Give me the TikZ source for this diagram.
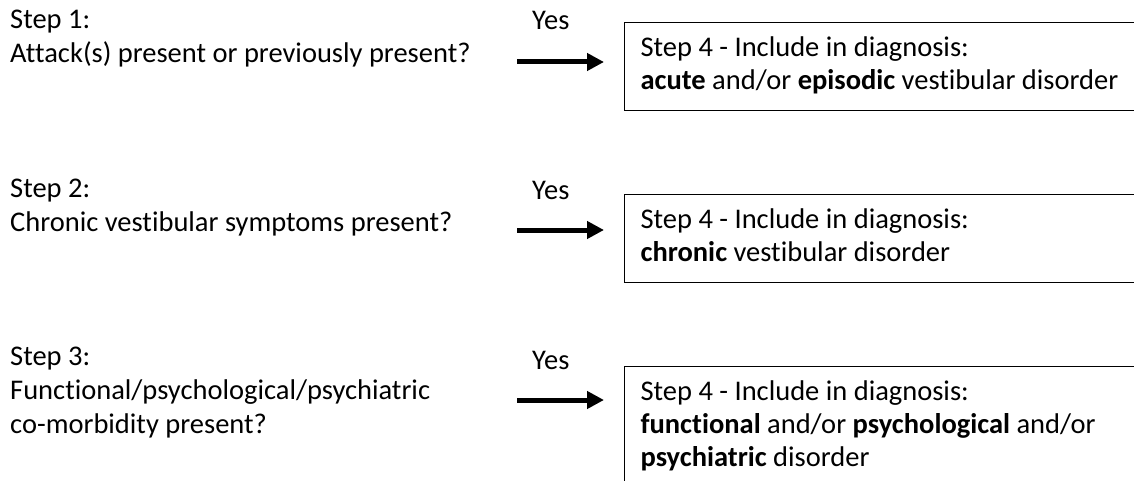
\documentclass[tikz,border=0pt]{standalone}
\usepackage{fontspec}
\setmainfont{Carlito}[Ligatures=NoCommon]
\usetikzlibrary{arrows.meta}

\begin{document}
\begin{tikzpicture}[x=1pt,y=-1pt,
        question/.style={anchor=north west, inner sep=0pt, align=left, font=\fontsize{28.5}{34}\selectfont},
        yesLabel/.style={anchor=base west, inner sep=0pt, font=\fontsize{28.5}{34}\selectfont},
        diagBox/.style={draw, line width=1.2pt, anchor=north west, inner xsep=16pt, inner ysep=10.9pt, text width=560pt, align=flush left, font=\fontsize{28.5}{33}\selectfont},
        yesArrow/.style={line width=5pt, -{Triangle[length=17pt,width=17pt]}}]
        \def\boxLeft{624}
        \def\arrowStart{517}
        \def\yesLeft{532}
        \useasboundingbox (0,0) rectangle (1134,481);
        \clip (0,0) rectangle (1134,481);

        \node[question] (step1) at (10,4.2) {\strut Step 1:\\Attack(s) present or previously present?};
        \node[question] (step2) at (10,173.2) {\strut Step 2:\\Chronic vestibular symptoms present?};
        \node[question] (step3) at (10,341.2) {\strut Step 3:\\Functional/psychological/psychiatric\\co-morbidity present?};

        \node[yesLabel] (yes1) at (\yesLeft,30) {Yes};
        \node[yesLabel] (yes2) at (\yesLeft,199) {Yes};
        \node[yesLabel] (yes3) at (\yesLeft,369) {Yes};

        \node[diagBox] (diag1) at (\boxLeft,22) {\strut Step 4 - Include in diagnosis:\\\textbf{acute} and/or \textbf{episodic} vestibular disorder\strut};
        \node[diagBox] (diag2) at (\boxLeft,194) {\strut Step 4 - Include in diagnosis:\\\textbf{chronic} vestibular disorder\strut};
        \node[diagBox] (diag3) at (\boxLeft,366) {\strut Step 4 - Include in diagnosis:\\\textbf{functional} and/or \textbf{psychological} and/or\\\textbf{psychiatric} disorder\strut};

        \foreach \i/\y in {1/62,2/230,3/400} {
            \coordinate (arrowStart\i) at (\arrowStart,\y);
            \draw[yesArrow, shorten >=20pt] (arrowStart\i) -- (diag\i.west |- arrowStart\i);
        }
    \end{tikzpicture}
\end{document}
